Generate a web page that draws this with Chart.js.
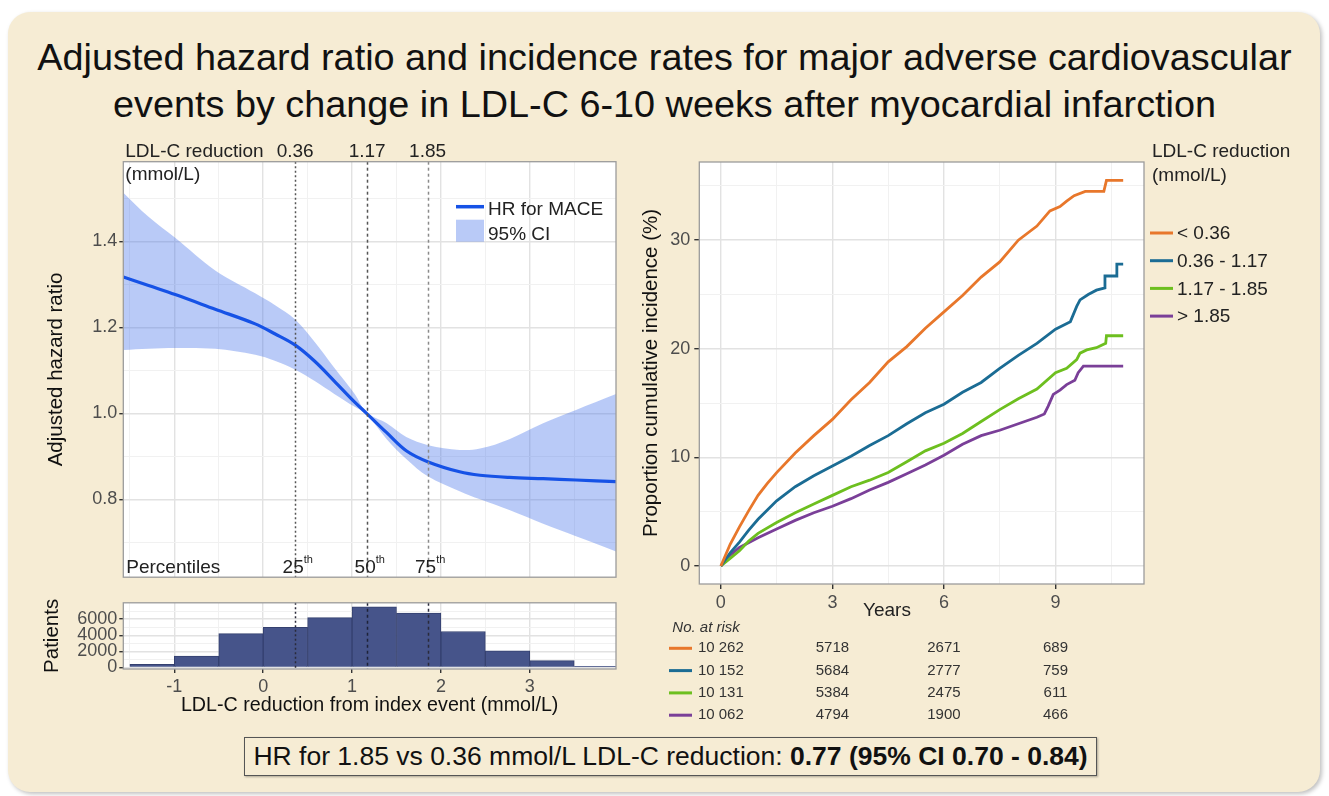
<!DOCTYPE html>
<html>
<head>
<meta charset="utf-8">
<script src="https://cdn.jsdelivr.net/npm/chart.js@4.4.1/dist/chart.umd.min.js"></script>
<style>
  html, body { margin: 0; padding: 0; background: #fff; }
  body { width: 1329px; height: 796px; position: relative; overflow: hidden;
         font-family: "Liberation Sans", Arial, sans-serif; }
  #panel { position: absolute; left: 8px; top: 12px; width: 1312px; height: 780px;
           background: #f6ecd4; border-radius: 22px; box-shadow: 2px 2px 4px rgba(0,0,0,0.25); }
  #title { position: absolute; left: 0; top: 34px; width: 1329px; text-align: center;
           font-size: 37.8px; line-height: 47px; color: #111; }
  canvas { position: absolute; }
  #years { position: absolute; left: 863px; top: 599px; font-size: 19px; color: #222; }
  #hrbox { position: absolute; left: 244px; top: 737px; width: 851px; height: 37px;
           border: 1.5px solid #555; box-shadow: 1px 1px 2px rgba(0,0,0,0.3);
           text-align: center; font-size: 26.5px; line-height: 37px; color: #111; white-space: nowrap; }
</style>
</head>
<body>
<div id="panel"></div>
<div id="title">Adjusted hazard ratio and incidence rates for major adverse cardiovascular<br>events by change in LDL-C 6-10 weeks after myocardial infarction</div>
<canvas id="hrChart" width="610" height="450" style="left:30px;top:140px"></canvas>
<canvas id="histChart" width="610" height="130" style="left:30px;top:590px"></canvas>
<canvas id="kmChart" width="690" height="590" style="left:630px;top:140px"></canvas>
<div id="years">Years</div>
<div id="hrbox">HR for 1.85 vs 0.36 mmol/L LDL-C reduction: <b>0.77 (95% CI 0.70 - 0.84)</b></div>
<script>
// LDL-C reduction cut points (quartiles) and their labels
const cutValues = [0.36, 1.17, 1.85];
const cutLabels = ['0.36', '1.17', '1.85'];
const pctLabels = ['25', '50', '75'];

// spline fit of the hazard ratio with its 95% CI
const hrX = [-1.574, -1.29, -0.99, -0.54, -0.09, 0.13, 0.357, 0.58, 0.8, 1.03, 1.163, 1.39, 1.61, 1.857, 2.21, 2.44, 2.77, 3.15, 3.52, 3.97];
const hrFit = [1.317, 1.297, 1.276, 1.242, 1.208, 1.185, 1.159, 1.121, 1.075, 1.026, 1.000, 0.955, 0.913, 0.887, 0.864, 0.856, 0.851, 0.848, 0.845, 0.841];
const ciUpper = [1.513, 1.457, 1.408, 1.332, 1.279, 1.252, 1.219, 1.166, 1.106, 1.045, 1.002, 0.977, 0.945, 0.926, 0.915, 0.918, 0.940, 0.977, 1.008, 1.045];
const ciLower = [1.147, 1.150, 1.152, 1.150, 1.136, 1.122, 1.102, 1.075, 1.045, 1.015, 0.998, 0.940, 0.894, 0.853, 0.819, 0.800, 0.775, 0.743, 0.714, 0.679];

// patient histogram, 0.5 mmol/L bins
const histBinStart = [-1.5, -1, -0.5, 0, 0.5, 1, 1.5, 2, 2.5, 3, 3.5];
const histCounts = [400, 1410, 4200, 4970, 6190, 7530, 6760, 4470, 2060, 840, 150];

// cumulative incidence by LDL-C reduction group (years, %)
const groupNames = ['< 0.36', '0.36 - 1.17', '1.17 - 1.85', '> 1.85'];
const groupColors = ['#e8772b', '#1b6c94', '#6dbf1f', '#7a3f98'];
const lowT = [0, 0.25, 0.5, 0.75, 1, 1.25, 1.5, 2, 2.5, 3, 3.5, 4, 4.5, 5, 5.5, 6, 6.5, 7, 7.5, 8, 8.5, 8.85, 9.12, 9.3, 9.5, 9.8, 10.3, 10.37, 10.82];
const lowP = [0, 2.0, 3.6, 5.1, 6.5, 7.6, 8.6, 10.4, 12.0, 13.5, 15.3, 16.9, 18.8, 20.2, 21.9, 23.4, 24.9, 26.6, 28.0, 30.0, 31.3, 32.7, 33.1, 33.6, 34.1, 34.5, 34.5, 35.5, 35.5];
const midLowT = [0, 0.25, 0.5, 0.75, 1, 1.5, 2, 2.5, 3, 3.5, 4, 4.5, 5, 5.5, 6, 6.5, 7, 7.5, 8, 8.5, 9, 9.4, 9.57, 9.66, 9.88, 10.1, 10.33, 10.33, 10.65, 10.65, 10.82];
const midLowP = [0, 1.2, 2.2, 3.3, 4.3, 6.0, 7.3, 8.3, 9.2, 10.1, 11.1, 12.0, 13.1, 14.1, 14.9, 16.0, 16.9, 18.2, 19.4, 20.5, 21.8, 22.5, 23.9, 24.5, 25.0, 25.4, 25.6, 26.7, 26.7, 27.8, 27.8];
const midHighT = [0, 0.25, 0.5, 0.75, 1, 1.5, 2, 2.5, 3, 3.5, 4, 4.5, 5, 5.5, 6, 6.5, 7, 7.5, 8, 8.5, 9, 9.3, 9.57, 9.66, 9.84, 10.1, 10.35, 10.37, 10.82];
const midHighP = [0, 0.7, 1.4, 2.3, 3.0, 4.0, 4.9, 5.7, 6.5, 7.3, 7.9, 8.6, 9.6, 10.6, 11.3, 12.2, 13.3, 14.4, 15.4, 16.3, 17.8, 18.2, 19.0, 19.6, 19.9, 20.1, 20.5, 21.2, 21.2];
const highT = [0, 0.25, 0.5, 1, 1.5, 2, 2.5, 3, 3.5, 4, 4.5, 5, 5.5, 6, 6.5, 7, 7.5, 8, 8.5, 8.7, 8.8, 8.94, 9.12, 9.3, 9.52, 9.61, 9.75, 10.82];
const highP = [0, 1.0, 1.7, 2.6, 3.4, 4.2, 4.9, 5.5, 6.2, 7.0, 7.7, 8.5, 9.3, 10.2, 11.2, 12.0, 12.5, 13.1, 13.7, 14.0, 14.7, 15.8, 16.2, 16.7, 17.1, 17.8, 18.4, 18.4];

// numbers at risk
const riskYears = [0, 3, 6, 9];
const riskLow = [10262, 5718, 2671, 689];
const riskMidLow = [10152, 5684, 2777, 759];
const riskMidHigh = [10131, 5384, 2475, 611];
const riskHigh = [10062, 4794, 1900, 466];

const FONT = '"Liberation Sans", Arial, sans-serif';
Chart.defaults.font.family = FONT;
Chart.defaults.animation = false;
Chart.defaults.responsive = false;
Chart.defaults.plugins.legend.display = false;
Chart.defaults.plugins.tooltip.enabled = false;

const pts = (xs, ys) => xs.map((x, i) => ({ x: x, y: ys[i] }));

// ggplot-like axis: light major/minor grid, small ticks at majors only
function gridAxis(min, max, lines, majors, fmt) {
  const isMajor = c => c.tick && majors.includes(c.tick.value);
  return {
    type: 'linear', min: min, max: max, offset: false,
    afterBuildTicks: s => { s.ticks = lines.map(v => ({ value: v })); },
    border: { display: false },
    grid: {
      offset: false,
      color: c => isMajor(c) ? '#e2e2e2' : '#f1f1f1',
      lineWidth: c => isMajor(c) ? 1.4 : 1,
      tickColor: c => isMajor(c) ? '#333' : 'rgba(0,0,0,0)',
      tickLength: 4
    },
    ticks: {
      autoSkip: false, maxRotation: 0, color: '#4d4d4d', padding: 2,
      font: { size: 18 },
      callback: v => majors.includes(v) ? fmt(v) : ''
    }
  };
}

const panelBg = {
  id: 'panelBg',
  beforeDraw(chart) {
    const { ctx, chartArea: a } = chart;
    ctx.save();
    ctx.fillStyle = '#fff';
    ctx.fillRect(a.left, a.top, a.width, a.height);
    ctx.restore();
  },
  afterDraw(chart) {
    const { ctx, chartArea: a } = chart;
    ctx.save();
    ctx.strokeStyle = '#9b9b9b';
    ctx.lineWidth = 1.3;
    ctx.strokeRect(a.left, a.top, a.width, a.height);
    ctx.restore();
  }
};

// dashed verticals at the quartile cut points
function cutLinePlugin(colors, dashes) {
  return {
    id: 'cutLines',
    afterDatasetsDraw(chart) {
      const { ctx, chartArea: a, scales: { x } } = chart;
      ctx.save();
      ctx.lineWidth = 1.5;
      cutValues.forEach((v, i) => {
        const px = Math.round(x.getPixelForValue(v)) + 0.5;
        ctx.strokeStyle = colors[i];
        ctx.setLineDash(dashes[i]);
        ctx.beginPath();
        ctx.moveTo(px, a.top);
        ctx.lineTo(px, a.bottom);
        ctx.stroke();
      });
      ctx.restore();
    }
  };
}

const hrColor = '#1652e6';
const bandColor = 'rgba(70,115,235,0.38)';

const hrNotes = {
  id: 'hrNotes',
  afterDraw(chart) {
    const { ctx, chartArea: a, scales: { x } } = chart;
    ctx.save();
    ctx.fillStyle = '#222';
    ctx.font = '19px ' + FONT;
    ctx.textBaseline = 'middle';
    ctx.textAlign = 'left';
    ctx.fillText('LDL-C reduction', a.left + 2, a.top - 10);
    ctx.fillText('(mmol/L)', a.left + 2, a.top + 13);
    ctx.fillText('Percentiles', a.left + 3, a.bottom - 9);
    cutValues.forEach((v, i) => {
      const px = x.getPixelForValue(v);
      ctx.font = '19px ' + FONT;
      ctx.textAlign = 'center';
      ctx.fillText(cutLabels[i], px, a.top - 10);
      ctx.fillText(pctLabels[i], px - 2, a.bottom - 9);
      const w = ctx.measureText(pctLabels[i]).width;
      ctx.font = '11px ' + FONT;
      ctx.textAlign = 'left';
      ctx.fillText('th', px - 2 + w / 2, a.bottom - 17);
    });
    // legend
    const lx = a.right - 160;
    ctx.font = '19px ' + FONT;
    ctx.textAlign = 'left';
    ctx.strokeStyle = hrColor;
    ctx.lineWidth = 3.5;
    ctx.beginPath();
    ctx.moveTo(lx, a.top + 45);
    ctx.lineTo(lx + 28, a.top + 45);
    ctx.stroke();
    ctx.fillText('HR for MACE', lx + 32, a.top + 48);
    ctx.fillStyle = bandColor;
    ctx.fillRect(lx, a.top + 58, 28, 22);
    ctx.fillStyle = '#222';
    ctx.fillText('95% CI', lx + 32, a.top + 73);
    ctx.restore();
  }
};

const xMin = -1.574, xMax = 3.97;
const xLines = [-1.5, -1, -0.5, 0, 0.5, 1, 1.5, 2, 2.5, 3, 3.5];
const xMajors = [-1, 0, 1, 2, 3];

const hrX_axis = gridAxis(xMin, xMax, xLines, xMajors, v => String(v));
hrX_axis.ticks.display = false;
hrX_axis.grid.drawTicks = false;
hrX_axis.afterFit = s => { s.height = 0; };
const hrY_axis = gridAxis(0.619, 1.585, [0.7, 0.8, 0.9, 1.0, 1.1, 1.2, 1.3, 1.4, 1.5], [0.8, 1.0, 1.2, 1.4], v => v.toFixed(1));
hrY_axis.afterFit = s => { s.width = 93.3; };
hrY_axis.title = { display: true, text: 'Adjusted hazard ratio', color: '#111', font: { size: 20.5 }, padding: { top: 14 } };

const smooth = { tension: 0.35, pointRadius: 0 };

new Chart(document.getElementById('hrChart'), {
  type: 'line',
  data: {
    datasets: [
      Object.assign({ label: 'HR for MACE', data: pts(hrX, hrFit), borderColor: hrColor, borderWidth: 3.2, fill: false }, smooth),
      Object.assign({ label: '95% CI', data: pts(hrX, ciUpper), borderWidth: 0, borderColor: 'rgba(0,0,0,0)',
        backgroundColor: bandColor, fill: '+1' }, smooth),
      Object.assign({ label: '95% CI lower', data: pts(hrX, ciLower), borderWidth: 0, borderColor: 'rgba(0,0,0,0)',
        fill: false }, smooth)
    ]
  },
  options: {
    layout: { padding: { top: 21.7, right: 24, bottom: 1.7, left: 0 } },
    scales: { x: hrX_axis, y: hrY_axis }
  },
  plugins: [panelBg, cutLinePlugin(['#555', '#555', '#8a8a8a'], [[2, 2.5], [3, 3], [3, 3]]), hrNotes]
});

const histX_axis = gridAxis(xMin, xMax, xLines, xMajors, v => String(v));
histX_axis.ticks.padding = 3;
histX_axis.afterFit = s => { s.height = 51; };
histX_axis.title = { display: true, text: 'LDL-C reduction from index event (mmol/L)', color: '#111', font: { size: 19.7 }, padding: { bottom: 2.4 } };
const histY_axis = gridAxis(-190, 8030, [0, 1000, 2000, 3000, 4000, 5000, 6000, 7000], [0, 2000, 4000, 6000], v => String(v));
histY_axis.afterFit = s => { s.width = 93.3; };
histY_axis.title = { display: true, text: 'Patients', color: '#111', font: { size: 20.5 }, padding: { top: 10.5 } };

new Chart(document.getElementById('histChart'), {
  type: 'bar',
  data: {
    datasets: [{
      label: 'Patients',
      data: histBinStart.map((b, i) => ({ x: b + 0.25, y: histCounts[i] })),
      backgroundColor: '#46548a', borderColor: '#34406f', borderWidth: 1,
      barPercentage: 1, categoryPercentage: 1
    }]
  },
  options: {
    layout: { padding: { top: 7.3, right: 24, bottom: 0, left: 0 } },
    scales: { x: histX_axis, y: histY_axis }
  },
  plugins: [panelBg, cutLinePlugin(['#2a2a3a', '#1e2238', '#2a2a3a'], [[2, 2.5], [3, 3], [3, 3]])]
});

const fmtRisk = n => n >= 10000 ? String(n).replace(/(\d+)(\d{3})$/, '$1 $2') : String(n);
const riskRows = [riskLow, riskMidLow, riskMidHigh, riskHigh];

const kmNotes = {
  id: 'kmNotes',
  afterDraw(chart) {
    const { ctx, chartArea: a, scales: { x } } = chart;
    ctx.save();
    ctx.textBaseline = 'middle';
    // numbers at risk
    ctx.fillStyle = '#333';
    ctx.font = 'italic 15px ' + FONT;
    ctx.textAlign = 'left';
    ctx.fillText('No. at risk', a.left - 27, a.bottom + 44);
    ctx.font = '15px ' + FONT;
    ctx.textAlign = 'center';
    riskRows.forEach((row, r) => {
      const y = a.bottom + 64.3 + r * 22.3;
      ctx.strokeStyle = groupColors[r];
      ctx.lineWidth = 3;
      ctx.beginPath();
      ctx.moveTo(a.left - 30.3, y);
      ctx.lineTo(a.left - 7.3, y);
      ctx.stroke();
      row.forEach((n, c) => ctx.fillText(fmtRisk(n), x.getPixelForValue(riskYears[c]), y));
    });
    // group legend
    const lx = a.right + 6;
    ctx.fillStyle = '#222';
    ctx.font = '19px ' + FONT;
    ctx.textAlign = 'left';
    ctx.fillText('LDL-C reduction', lx + 2, a.top - 10);
    ctx.fillText('(mmol/L)', lx + 2, a.top + 14);
    groupNames.forEach((name, i) => {
      const y = a.top + 71 + i * 27.7;
      ctx.strokeStyle = groupColors[i];
      ctx.lineWidth = 3;
      ctx.beginPath();
      ctx.moveTo(lx, y);
      ctx.lineTo(lx + 23, y);
      ctx.stroke();
      ctx.fillText(name, lx + 27, y + 1);
    });
    ctx.restore();
  }
};

const kmX_axis = gridAxis(-0.58, 11.38, [0, 1.5, 3, 4.5, 6, 7.5, 9, 10.5], [0, 3, 6, 9], v => String(v));
kmX_axis.grid.tickLength = 5;
kmX_axis.ticks.padding = 3;
kmX_axis.afterFit = s => { s.height = 36; };
const kmY_axis = gridAxis(-1.66, 37.2, [0, 5, 10, 15, 20, 25, 30, 35], [0, 10, 20, 30], v => String(v));
kmY_axis.grid.tickLength = 5;
kmY_axis.ticks.padding = 4;
kmY_axis.afterFit = s => { s.width = 69.3; };
kmY_axis.title = { display: true, text: 'Proportion cumulative incidence (%)', color: '#111', font: { size: 20.5 }, padding: { top: 9 } };

const kmSeries = [[lowT, lowP], [midLowT, midLowP], [midHighT, midHighP], [highT, highP]];

new Chart(document.getElementById('kmChart'), {
  type: 'line',
  data: {
    datasets: kmSeries.map((s, i) => ({
      label: groupNames[i], data: pts(s[0], s[1]), borderColor: groupColors[i],
      borderWidth: 2.8, pointRadius: 0, tension: 0, fill: false
    }))
  },
  options: {
    layout: { padding: { top: 22, right: 176, bottom: 110, left: 0 } },
    scales: { x: kmX_axis, y: kmY_axis }
  },
  plugins: [panelBg, kmNotes]
});
</script>
</body>
</html>
